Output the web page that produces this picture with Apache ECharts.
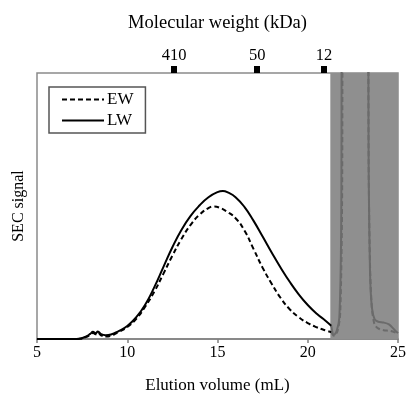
<!DOCTYPE html>
<html>
<head>
<meta charset="utf-8">
<script src="https://cdn.jsdelivr.net/npm/echarts@6/dist/echarts.min.js"></script>
<style>html,body{margin:0;padding:0;background:#fff}#c{width:406px;height:396px}</style>
</head>
<body>
<div id="c"></div>
<script>
// Elution volume (mL) and SEC signal (arbitrary units, 0-100 visible)
var ewVolume = [5.0,7.0,7.4,7.7,7.95,8.1,8.25,8.37,8.55,8.8,9.1,9.5,10.0,10.5,11.0,11.5,12.0,12.5,13.0,13.5,14.0,14.5,14.8,15.1,15.5,16.0,16.5,17.0,17.5,18.0,18.5,19.0,19.5,20.0,20.5,21.0,21.3,21.45,21.65,21.8,21.9,21.97,23.3,23.38,23.45,23.55,23.7,23.9,24.2,24.6,25.0];
var ewSignal = [0,0,0.1,0.7,1.6,2.3,1.8,2.4,1.4,0.9,1.2,2.6,4.5,7.6,12.2,17.8,24.5,31.3,37.6,42.8,46.7,49.2,49.8,49.4,48.0,45.4,40.7,33.8,26.8,20.8,15.4,11.2,8.2,6.0,4.4,3.2,2.6,1.2,3,10,50,140,140,60,28,12,5.5,4.0,3.3,3.0,2.0];
var lwVolume = [5.0,7.0,7.4,7.7,7.95,8.1,8.25,8.37,8.55,8.8,9.1,9.5,10.0,10.5,11.0,11.5,12.0,12.5,13.0,13.5,14.0,14.5,15.0,15.3,15.6,16.0,16.5,17.0,17.5,18.0,18.5,19.0,19.5,20.0,20.5,21.0,21.3,21.45,21.6,21.75,21.85,21.92,23.3,23.38,23.45,23.55,23.7,23.9,24.2,24.5,24.8,25.0];
var lwSignal = [0,0,0.2,0.9,1.9,2.7,2.2,2.8,1.8,1.4,1.7,2.9,4.9,8.2,13.0,19.5,27.0,34.5,41.0,46.2,50.2,53.3,55.2,55.6,55.0,53.3,49.6,44.4,38.5,32.5,26.8,21.5,16.8,12.8,9.5,6.8,5.0,1.5,3,8,40,140,140,60,25,12,7.5,6.5,6.2,5.5,3.5,2.2];
var seriesNames = ['EW','LW'];
var mwLabels = ['410','50','12'];
var mwVolume = [12.6, 17.2, 20.9];
var shadedRange = [21.25, 25];
var splitVolume = 21.3;
var xTicks = [5,10,15,20,25];

function pairs(xs, ys, lo, hi){
  var out = [];
  xs.forEach(function(x,i){ if (x >= lo && x <= hi) out.push([x, ys[i]]); });
  return out;
}

var font = "'Liberation Serif','Times New Roman',serif";
var black = '#000', tailGray = '#6b6b6b';
function lineSeries(name, xs, ys, dashed, lo, hi, color, z, smooth){
  return {type:'line', name:name, data:pairs(xs, ys, lo, hi), z:z, symbol:'none',
    smooth:smooth, clip:true, silent:true,
    lineStyle:{color:color, width:2, type:dashed?[5,3]:'solid'}, itemStyle:{color:color}};
}

var chart = echarts.init(document.getElementById('c'), null, {renderer:'canvas'});
chart.setOption({
  animation:false,
  backgroundColor:'#fff',
  textStyle:{fontFamily:font},
  grid:{left:37, right:8, top:73, bottom:57, containLabel:false, outerBoundsMode:'none',
        show:true, borderColor:'#8a8a8a', borderWidth:1.5, backgroundColor:'transparent'},
  legend:{
    orient:'vertical', left:49, top:87,
    data:seriesNames,
    borderColor:'#555', borderWidth:1.5, borderRadius:0,
    padding:[4,12,4,12], itemGap:4, itemWidth:42, itemHeight:18,
    itemStyle:{opacity:0, color:'transparent', borderWidth:0},
    textStyle:{fontFamily:font, fontSize:17, color:'#000', padding:[0,0,0,-2]}
  },
  xAxis:[{
    type:'value', min:xTicks[0], max:xTicks[xTicks.length-1], interval:5, position:'bottom',
    name:'Elution volume (mL)', nameLocation:'middle', nameGap:38,
    nameTextStyle:{fontFamily:font, fontSize:17, color:'#000'},
    axisLine:{show:true, lineStyle:{color:'#808080', width:1.5}},
    axisTick:{show:true, inside:false, length:4, lineStyle:{color:'#808080', width:1.5}},
    axisLabel:{fontFamily:font, fontSize:16, color:'#000', margin:6},
    splitLine:{show:false}
  },{
    type:'value', min:xTicks[0], max:xTicks[xTicks.length-1], position:'top',
    name:'Molecular weight (kDa)', nameLocation:'middle', nameGap:40,
    nameTextStyle:{fontFamily:font, fontSize:18.5, color:'#000'},
    axisLine:{show:false},
    axisTick:{show:true, inside:false, length:7, customValues:mwVolume, lineStyle:{color:'#000', width:6}},
    axisLabel:{show:true, customValues:mwVolume, fontFamily:font, fontSize:16.5, color:'#000', margin:9,
      formatter:function(v){ var i=mwVolume.indexOf(v); return i>=0?mwLabels[i]:''; }},
    splitLine:{show:false}
  }],
  yAxis:{
    type:'value', min:0, max:100,
    name:'SEC signal', nameLocation:'middle', nameGap:10,
    nameTextStyle:{fontFamily:font, fontSize:16, color:'#000'},
    axisLine:{show:false}, axisTick:{show:false}, axisLabel:{show:false}, splitLine:{show:false}
  },
  series:[
    {type:'line', name:'shade', data:[[5,0]], z:1, silent:true, symbol:'none', lineStyle:{width:0},
     markArea:{silent:true, itemStyle:{color:'#8f8f8f'}, data:[[{xAxis:shadedRange[0]},{xAxis:shadedRange[1]}]]}},
    lineSeries(seriesNames[0], ewVolume, ewSignal, true, 0, splitVolume, black, 3, 0.5),
    lineSeries(seriesNames[1], lwVolume, lwSignal, false, 0, splitVolume, black, 3, 0.5),
    lineSeries('EW tail', ewVolume, ewSignal, true, splitVolume, 99, tailGray, 2, 0.3),
    lineSeries('LW tail', lwVolume, lwSignal, false, splitVolume, 99, tailGray, 2, 0.3)
  ]
});
</script>
</body>
</html>
